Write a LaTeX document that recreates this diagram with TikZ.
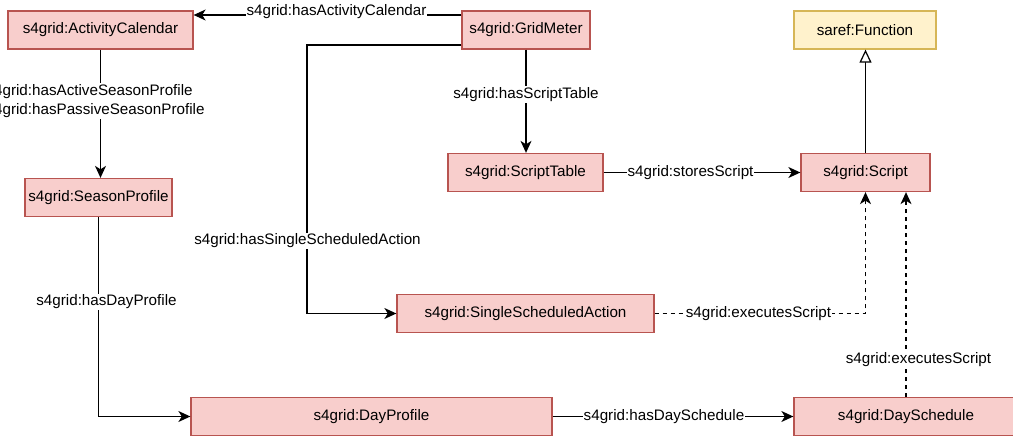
\documentclass[tikz,border=0pt]{standalone}
\usepackage{fontspec}
\setmainfont{Liberation Sans}
\usetikzlibrary{arrows.meta}
\definecolor{clsfill}{HTML}{F8CECC}
\definecolor{clsdraw}{HTML}{B85450}
\definecolor{extfill}{HTML}{FFF2CC}
\definecolor{extdraw}{HTML}{D6B656}
\begin{document}
\begin{tikzpicture}[x=1pt, y=-1pt,
    every node/.style={font=\fontsize{15.2}{19.5}\selectfont},
    cls/.style={draw=clsdraw, fill=clsfill, line width=1.3pt, minimum height=38pt, inner sep=0pt},
    ext/.style={draw=extdraw, fill=extfill, line width=1.3pt, minimum height=38pt, inner sep=0pt},
    rel/.style={line width=1.2pt, -{Stealth[length=12pt, width=11pt, inset=3.5pt]}},
    dashrel/.style={rel, dash pattern=on 4pt off 4pt},
    subrel/.style={line width=1.2pt, -{Triangle[open, fill=white, length=13pt, width=12pt]}},
    lbl/.style={fill=white, inner sep=1pt, align=left}]
    \path[use as bounding box, fill=white] (0,0) rectangle (1013,436);
    \clip (0,0) rectangle (1013,436);

    % Draw the classes
    \node[cls, minimum width=185pt] (ac) at (100.5, 30) {s4grid:ActivityCalendar};
    \node[cls, minimum width=128pt] (gm) at (526, 30) {s4grid:GridMeter};
    \node[ext, minimum width=142pt] (fn) at (865, 30) {saref:Function};
    \node[cls, minimum width=155pt] (st) at (525.5, 172.5) {s4grid:ScriptTable};
    \node[cls, minimum width=129pt] (sc) at (865.5, 172.5) {s4grid:Script};
    \node[cls, minimum width=147pt] (sp) at (98.5, 197.5) {s4grid:SeasonProfile};
    \node[cls, minimum width=257pt] (ssa) at (525.5, 313.5) {s4grid:SingleScheduledAction};
    \node[cls, minimum width=361pt] (dp) at (371.5, 416.5) {s4grid:DayProfile};
    \node[cls, minimum width=224pt] (ds) at (906, 416.5) {s4grid:DaySchedule};

    % Draw the relations of the grid meter
    \draw[rel] ([yshift=15pt]gm.west) -- ([yshift=15pt]ac.east);
    \node[lbl, anchor=base] at (336.5, 16) {s4grid:hasActivityCalendar};
    \draw[rel] (gm.south) -- (gm.south |- st.north);
    \node[lbl] at (526, 94.5) {s4grid:hasScriptTable};
    \coordinate (ssabend) at (307, 313.5);
    \draw[rel] ([yshift=-15pt]gm.west) -| (ssabend) -- (ssa.west);
    \node[lbl] at (307.5, 241) {s4grid:hasSingleScheduledAction};

    % Draw the profile chain
    \draw[rel] (ac.south) -- (ac.south |- sp.north);
    \node[lbl] at (95.5, 101) {s4grid:hasActiveSeasonProfile\\s4grid:hasPassiveSeasonProfile};
    \draw[rel] (sp.south) |- (dp.west);
    \node[lbl] at (106.5, 302) {s4grid:hasDayProfile};
    \draw[rel] (dp.east) -- (ds.west);
    \node[lbl] at (664, 417) {s4grid:hasDaySchedule};

    % Draw the script relations
    \draw[rel] (st.east) -- (sc.west);
    \node[lbl] at (690.5, 172.5) {s4grid:storesScript};
    \draw[subrel] (sc.north) -- (sc.north |- fn.south);
    \draw[dashrel] (ssa.east) -| (sc.south);
    \node[lbl] at (758.5, 313.5) {s4grid:executesScript};
    \draw[dashrel] (ds.north) -- (ds.north |- sc.south);
    \node[lbl] at (918.5, 360) {s4grid:executesScript};
\end{tikzpicture}
\end{document}
